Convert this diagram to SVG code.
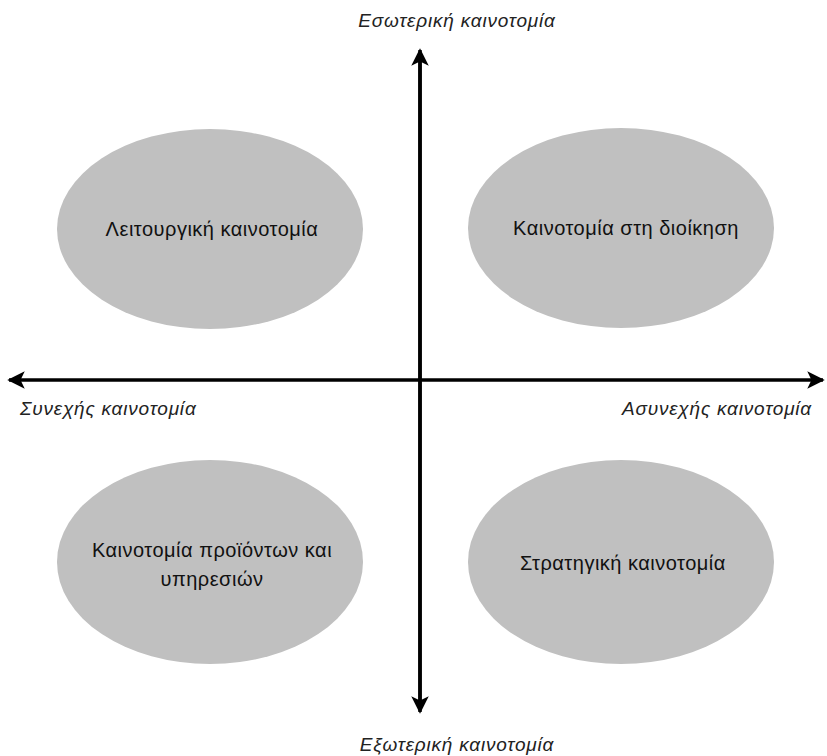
<svg xmlns="http://www.w3.org/2000/svg" width="827" height="756" viewBox="0 0 827 756">
<style>
.node{fill:#c0c0c0;stroke:none}
.lbl{font-family:"Liberation Sans",Arial,sans-serif;font-size:20px;letter-spacing:0.5px;fill:#111;text-anchor:middle}
.ax{font-family:"Liberation Sans",Arial,sans-serif;font-size:19px;letter-spacing:0.8px;font-style:italic;fill:#222}
.axis{stroke:#000;stroke-width:3.5;fill:none}
</style>
<defs>
<marker id="ah" markerWidth="5" markerHeight="5" refX="4.5" refY="2.5" orient="auto" markerUnits="strokeWidth">
<path d="M0,0 L5,2.5 L0,5 L1.2,2.5 Z" fill="#000"/>
</marker>
</defs>
<rect width="827" height="756" fill="#fff"/>
<g id="n1"><ellipse class="node" cx="210" cy="229" rx="153" ry="100"/><text class="lbl" x="212" y="236">Λειτουργική καινοτομία</text></g>
<g id="n2"><ellipse class="node" cx="621" cy="228" rx="153" ry="100"/><text class="lbl" x="626" y="235">Καινοτομία στη διοίκηση</text></g>
<g id="n3"><ellipse class="node" cx="210" cy="562" rx="153" ry="102"/><text class="lbl" x="212" y="557">Καινοτομία προϊόντων και</text><text class="lbl" x="212" y="586">υπηρεσιών</text></g>
<g id="n4"><ellipse class="node" cx="621" cy="562" rx="153" ry="102"/><text class="lbl" x="623" y="570">Στρατηγική καινοτομία</text></g>
<g id="connectors">
<line class="axis" x1="420" y1="710" x2="420" y2="50" marker-end="url(#ah)"/>
<line class="axis" x1="420" y1="52" x2="420" y2="712" marker-end="url(#ah)"/>
<line class="axis" x1="420" y1="380" x2="9" y2="380" marker-end="url(#ah)"/>
<line class="axis" x1="420" y1="380" x2="823" y2="380" marker-end="url(#ah)"/>
</g>
<text class="ax" x="457" y="27" text-anchor="middle">Εσωτερική καινοτομία</text>
<text class="ax" x="457" y="751" text-anchor="middle">Εξωτερική καινοτομία</text>
<text class="ax" x="20" y="415">Συνεχής καινοτομία</text>
<text class="ax" x="812" y="415" text-anchor="end">Ασυνεχής καινοτομία</text>
</svg>
